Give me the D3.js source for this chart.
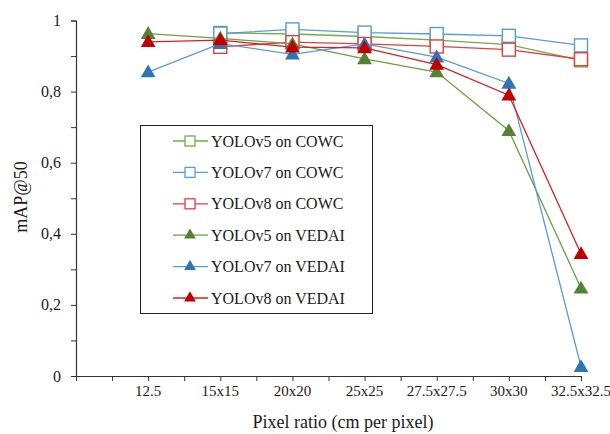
<!DOCTYPE html>
<html>
<head>
<meta charset="utf-8">
<script src="https://cdn.jsdelivr.net/npm/d3@7"></script>
<style>
  body { margin: 0; background: #fff; }
  text { font-family: "Liberation Serif", "Times New Roman", serif; fill: #1a1a1a; }
</style>
</head>
<body>
<div id="chart"></div>
<script>
// categories on the x axis
const categories = ["12.5", "15x15", "20x20", "25x25", "27.5x27.5", "30x30", "32.5x32.5"];

// mAP@50 values (null = no point)
const v5Cowc  = [null, 0.965, 0.962, 0.955, 0.945, 0.932, 0.888];
const v7Cowc  = [null, 0.963, 0.975, 0.966, 0.962, 0.957, 0.930];
const v8Cowc  = [null, 0.926, 0.939, 0.934, 0.927, 0.918, 0.891];
const v5Vedai = [0.963, 0.950, 0.934, 0.892, 0.855, 0.690, 0.247];
const v7Vedai = [0.855, 0.935, 0.905, 0.934, 0.897, 0.823, 0.026];
const v8Vedai = [0.940, 0.945, 0.925, 0.923, 0.876, 0.790, 0.344];

const seriesNames = ["YOLOv5 on COWC", "YOLOv7 on COWC", "YOLOv8 on COWC",
                     "YOLOv5 on VEDAI", "YOLOv7 on VEDAI", "YOLOv8 on VEDAI"];

const yTicks = [0, 0.2, 0.4, 0.6, 0.8, 1];
const yTickLabels = ["0", "0,2", "0,4", "0,6", "0,8", "1"];

// styles per series
const styles = [
  {line: "#70AD47", stroke: "#70AD47", fill: "#fff", shape: "square"},
  {line: "#5B9BD5", stroke: "#5B9BD5", fill: "#fff", shape: "square"},
  {line: "#E04040", stroke: "#E04040", fill: "#fff", shape: "square"},
  {line: "#6E9E48", stroke: "none", fill: "#548235", shape: "tri"},
  {line: "#5B9BD5", stroke: "none", fill: "#2E75B6", shape: "tri"},
  {line: "#D42020", stroke: "none", fill: "#C00000", shape: "tri"}
];
const allSeries = [v5Cowc, v7Cowc, v8Cowc, v5Vedai, v7Vedai, v8Vedai];

const W = 610, H = 434;
const svg = d3.select("#chart").append("svg")
  .attr("width", W).attr("height", H);

// x: Excel style slots, categories sit on every second tick
const x = d3.scaleLinear().domain([0, 14]).range([76, 581]);
const xPos = i => x(2 * (i + 1));
const y = d3.scaleLinear().domain([0, 1]).range([376, 20.5]);

// y axis
const yAxis = svg.append("g").attr("transform", "translate(76,0)")
  .call(d3.axisLeft(y).tickValues(d3.range(0, 1.01, 0.1)).tickSize(5).tickFormat(""));
yAxis.select(".domain").attr("stroke", "#333").attr("stroke-width", 1.2);
yAxis.selectAll(".tick line").attr("stroke", "#333");

svg.append("g").selectAll("text").data(yTicks).join("text")
  .attr("x", 61).attr("y", d => y(d) + 5.5)
  .attr("text-anchor", "end").style("font-size", "16px")
  .text((d, i) => yTickLabels[i]);

// x axis
const xAxis = svg.append("g").attr("transform", "translate(0,376)")
  .call(d3.axisBottom(x).ticks(14).tickSize(5).tickSizeOuter(0).tickFormat(""));
xAxis.select(".domain").attr("stroke", "#333").attr("stroke-width", 1.2);
xAxis.selectAll(".tick line").attr("stroke", "#333");

svg.append("g").selectAll("text").data(categories).join("text")
  .attr("x", (d, i) => xPos(i)).attr("y", 396)
  .attr("text-anchor", "middle").style("font-size", "15px")
  .text(d => d);

svg.append("text").attr("x", 343).attr("y", 428)
  .attr("text-anchor", "middle").style("font-size", "18px")
  .text("Pixel ratio (cm per pixel)");

svg.append("text").attr("transform", "translate(27,197) rotate(-90)")
  .attr("text-anchor", "middle").style("font-size", "18px")
  .text("mAP@50");

const triPath = d3.symbol().type(d3.symbolTriangle).size(95);

function drawMarker(g, st, cx, cy) {
  if (st.shape === "square") {
    g.append("rect").attr("x", cx - 6.5).attr("y", cy - 6.5)
      .attr("width", 13).attr("height", 13)
      .attr("fill", st.fill).attr("stroke", st.stroke).attr("stroke-width", 1.4);
  } else {
    g.append("path").attr("d", triPath)
      .attr("transform", `translate(${cx},${cy + 1})`)
      .attr("fill", st.fill);
  }
}

// series: line then markers, in order
const line = d3.line()
  .defined(d => d.v !== null)
  .x(d => xPos(d.i)).y(d => y(d.v));

allSeries.forEach((vals, s) => {
  const st = styles[s];
  const pts = vals.map((v, i) => ({v, i}));
  const g = svg.append("g");
  g.append("path").datum(pts)
    .attr("d", line).attr("fill", "none")
    .attr("stroke", st.line).attr("stroke-width", 1.3);
  pts.filter(p => p.v !== null).forEach(p => drawMarker(g, st, xPos(p.i), y(p.v)));
});

// legend
const lg = svg.append("g");
lg.append("rect").attr("x", 140.5).attr("y", 125.5).attr("width", 232).attr("height", 188)
  .attr("fill", "#fff").attr("stroke", "#222").attr("stroke-width", 1);
seriesNames.forEach((name, k) => {
  const ly = 141 + k * 31.4;
  const st = styles[k];
  const g = lg.append("g");
  g.append("line").attr("x1", 173).attr("x2", 208).attr("y1", ly).attr("y2", ly)
    .attr("stroke", st.line).attr("stroke-width", 1.3);
  if (st.shape === "square") {
    g.append("rect").attr("x", 190 - 5).attr("y", ly - 5).attr("width", 10).attr("height", 10)
      .attr("fill", "#fff").attr("stroke", st.stroke).attr("stroke-width", 1.3);
  } else {
    g.append("path").attr("d", d3.symbol().type(d3.symbolTriangle).size(60))
      .attr("transform", `translate(190,${ly})`).attr("fill", st.fill);
  }
  g.append("text").attr("x", 211).attr("y", ly + 5.5)
    .style("font-size", "16px").text(name);
});
</script>
</body>
</html>
